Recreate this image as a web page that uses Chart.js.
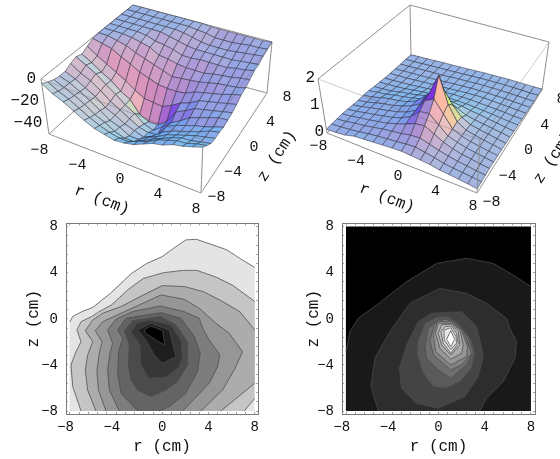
<!DOCTYPE html>
<html>
<head>
<meta charset="utf-8">
<script src="https://cdn.jsdelivr.net/npm/chart.js@4/dist/chart.umd.js"></script>
<style>
  body { margin: 0; background: #fff; }
  canvas { position: absolute; }
</style>
</head>
<body>
<canvas id="surfaceLeft" width="310" height="215" style="left:0;top:0"></canvas>
<canvas id="surfaceRight" width="280" height="215" style="left:280px;top:0"></canvas>
<canvas id="contourLeft" width="280" height="244" style="left:0;top:215px"></canvas>
<canvas id="contourRight" width="280" height="244" style="left:280px;top:215px"></canvas>
<script>
const FONT = "'Liberation Mono'";
const rTitle = "r (cm)";
const zTitle = "z (cm)";
const axisLabels = [-8, -4, 0, 4, 8];
const frameTicks = [-8, -7.2, -6.4, -5.6, -4.8, -4, -3.2, -2.4, -1.6, -0.8, 0, 0.8, 1.6, 2.4, 3.2, 4, 4.8, 5.6, 6.4, 7.2, 8];
const gridAxis = [-8, -7, -6, -5, -4, -3, -2, -1, 0, 1, 2, 3, 4, 5, 6, 7, 8];

// heights, one row per z from -8 to 8, one column per r from -8 to 8
const depthGrid = [
  [-4,-10,-14,-19,-24,-28,-30,-32,-31,-29,-25,-21,-19,-15,-13,-10,-7],
  [-7,-12,-16,-21,-26,-30,-33,-35,-35,-31,-28,-23,-20,-17,-16,-13,-11],
  [-9,-13,-17,-22,-28,-32,-37,-40,-40,-36,-31,-27,-23,-20,-19,-17,-15],
  [-10,-13,-18,-23,-29,-35,-38,-43,-43,-38,-34,-29,-26,-23,-20,-18,-16],
  [-10,-14,-19,-24,-31,-35,-40,-43,-46,-42,-35,-31,-28,-25,-22,-18,-16],
  [-7,-13,-17,-23,-30,-35,-40,-45,-47,-46,-35,-31,-28,-25,-23,-20,-17],
  [-5,-10,-15,-22,-28,-35,-40,-47,-50,-44,-37,-32,-26,-23,-20,-17,-16],
  [-7,-12,-18,-23,-30,-35,-46,-50,-50,-44,-32,-28,-23,-21,-19,-17,-15],
  [-4,-10,-15,-20,-25,-31,-36,-37,-38,-34,-29,-26,-21,-19,-17,-15,-13],
  [-1,-3,-5,-10,-14,-19,-22,-25,-26,-26,-25,-21,-19,-17,-15,-12,-10],
  [0,0,-2,-4,-8,-11,-14,-17,-20,-19,-18,-17,-15,-13,-12,-11,-9],
  [0,0,0,-1,-3,-5,-10,-11,-13,-14,-14,-14,-12,-11,-10,-8,-7],
  [0,0,0,0,-1,-4,-5,-7,-10,-10,-9,-9,-9,-9,-7,-6,-4],
  [0,0,0,0,0,0,-2,-4,-6,-7,-7,-7,-7,-7,-6,-5,-4],
  [0,0,0,0,0,0,0,-1,-3,-5,-6,-6,-6,-5,-4,-3,-2],
  [0,0,0,0,0,0,0,0,-1,-2,-4,-4,-4,-3,-2,-2,-1],
  [0,0,0,0,0,0,0,0,0,-1,-1,-1,-1,-1,-1,-1,0]
];
const peakGrid = [
  [.14,.16,.20,.30,.33,.36,.39,.42,.44,.42,.39,.36,.30,.27,.24,.2,.16],
  [.15,.18,.22,.27,.33,.38,.42,.45,.50,.52,.46,.40,.32,.28,.25,.22,.18],
  [.16,.2,.27,.31,.38,.45,.5,.55,.62,.65,.55,.45,.37,.31,.27,.22,.19],
  [.17,.21,.28,.33,.4,.47,.58,.7,.85,.9,.72,.54,.42,.34,.29,.24,.2],
  [.16,.21,.28,.34,.42,.49,.6,.78,1.1,1.15,.85,.55,.44,.36,.3,.25,.2],
  [.14,.2,.28,.35,.42,.5,.62,.8,1.3,1.5,1.05,.6,.45,.36,.3,.25,.2],
  [.13,.18,.27,.36,.42,.52,.65,.85,1.4,2.2,1.2,.65,.45,.37,.3,.25,.19],
  [.14,.19,.28,.36,.4,.48,.63,.95,1.3,1.45,.95,.6,.43,.36,.3,.24,.18],
  [.13,.18,.22,.3,.35,.42,.5,.62,.8,.78,.6,.45,.38,.33,.28,.23,.17],
  [.1,.12,.15,.22,.27,.33,.42,.48,.5,.5,.46,.4,.36,.3,.25,.2,.15],
  [.08,.1,.12,.15,.2,.24,.27,.31,.33,.33,.32,.3,.27,.24,.2,.17,.14],
  [.05,.06,.08,.1,.13,.16,.2,.23,.25,.25,.25,.23,.21,.19,.17,.14,.12],
  [.04,.05,.06,.08,.1,.12,.13,.15,.17,.19,.2,.2,.18,.16,.14,.12,.1],
  [.03,.04,.05,.06,.07,.08,.1,.12,.13,.15,.15,.15,.14,.13,.11,.09,.08],
  [.02,.03,.04,.05,.06,.06,.08,.1,.1,.12,.12,.12,.11,.1,.09,.07,.06],
  [.02,.02,.03,.04,.05,.05,.06,.07,.08,.09,.09,.09,.09,.08,.07,.05,.05],
  [.01,.02,.02,.03,.04,.04,.05,.05,.06,.07,.07,.07,.07,.06,.05,.04,.04]
];
const depthTicks = [0, -20, -40];
const peakTicks = [0, 1, 2];

// contour outlines in cm, outermost first
const depthGrays = [228, 197, 172, 150, 125, 100, 75, 55, 30, 0];
const depthContours = [
  [[-8,-8],[-8,-.25],[-7.75,.2],[-7,.6],[-6,1],[-4.5,2.2],[-2.65,3.95],[-1.35,4.8],[0,5.4],[.95,6.1],[2.05,6.85],[2.95,6.9],[4.4,6.4],[5.55,6],[6.7,5.25],[8,4.45],[8,-8]],
  [[-7.03,-8],[-7.75,-5.88],[-7.9,-4],[-7.47,-2.85],[-7.03,-1.98],[-7.38,-.97],[-7.03,-.25],[-6.1,.2],[-5.5,.6],[-4.4,1.2],[-3,2.5],[-1.65,3.5],[.1,4],[1.8,4.2],[3,4.2],[4.7,3.6],[6.1,2.9],[8,1.5],[8,-6.89],[7.09,-8]],
  [[-5.74,-8],[-6.46,-6.17],[-6.66,-4.44],[-6.46,-3.14],[-6.02,-1.98],[-6.66,-1.03],[-6.02,-.1],[-5.16,.48],[-3.57,1.06],[-1.93,1.92],[0,2.88],[1.96,2.79],[3.54,2.36],[4.98,1.63],[6.71,.62],[8,-.97],[8,-5.59],[5.07,-8]],
  [[-4.87,-8],[-5.53,-6.17],[-5.65,-4.44],[-5.45,-2.99],[-5.22,-1.98],[-5.8,-1.03],[-5.16,-.25],[-3.57,.48],[-1.7,1.34],[-.12,2.07],[1.9,1.69],[3.2,.91],[4.64,-.39],[5.79,-1.26],[6.94,-2.85],[6.22,-4.44],[5.22,-6.17],[3.34,-8]],
  [[-3.72,-8],[-4.58,-6.17],[-4.73,-4.44],[-4.53,-2.99],[-4.3,-2.12],[-4.73,-.97],[-4.01,-.04],[-2.57,.62],[-.17,1.11],[1.9,.62],[3.2,.04],[3.49,-.82],[4.06,-1.84],[4.98,-3.14],[4.78,-4.15],[4.06,-5.59],[1.76,-8]],
  [[-2.13,-8],[-3.57,-6.46],[-3.86,-4.73],[-3.78,-2.85],[-3.43,-1.69],[-3.86,-.97],[-3.14,.04],[-.12,.53],[1.61,.04],[2.77,-1.55],[3.28,-2.99],[3.05,-4.58],[2.04,-6.46],[.6,-7.62],[-.26,-8]],
  [[-.98,-6.75],[-2.13,-6.17],[-2.71,-5.3],[-2.94,-4],[-2.85,-2.27],[-3.29,-1.03],[-2.57,-.16],[-.12,.19],[1.18,-.53],[2.19,-1.98],[2.19,-4],[1.32,-5.45],[.32,-6.17]],
  [[-1.13,-5.16],[-1.85,-4],[-1.93,-2.27],[-2.71,-1.11],[-2.13,-.39],[-1.13,-.1],[.75,-.53],[1.61,-1.84],[1.76,-3.28],[1.47,-4.15],[.32,-5.07]],
  [[.03,-3.86],[-.69,-3.14],[-1.41,-1.84],[-2.13,-.97],[-.98,-.39],[.6,-.97],[1.18,-3.28]],
  [[-1.56,-.97],[-.98,-.62],[.03,-1.03],[.23,-2.27],[-.55,-1.84],[-1.41,-1.26]]
];
const peakGrays = [0, 25, 45, 68, 90, 110, 130, 150, 170, 190, 210, 230, 255];
const peakContours = [
  [[-8,-8],[-8,8],[8,8],[8,-8]],
  [[-8,-8],[-8,-2.85],[-7.66,-1.11],[-6.94,.04],[-5.35,1.2],[-2.76,3.22],[-.16,4.81],[2.43,5.25],[4.73,4.81],[6.46,3.8],[8,2.79],[8,-8]],
  [[-5.21,-8],[-5.84,-5.88],[-5.5,-3.42],[-4.2,-1.11],[-2.47,1.34],[.12,2.64],[2.43,2.21],[4.16,1.34],[5.89,.04],[6.18,-.82],[6.75,-1.98],[6.61,-3.42],[5.6,-5.45],[4.16,-6.89],[3.58,-8]],
  [[-.02,-7.76],[-1.89,-7.33],[-3.19,-6.03],[-3.39,-4.29],[-2.76,-2.27],[-1.75,-.25],[-.6,.48],[2,.62],[3.29,-.68],[3.73,-2.41],[3.87,-3.28],[3.44,-5],[2.28,-6.75]],
  [[-1.87,-2.99],[-1.75,-1.84],[-1.17,-.39],[-.16,.13],[.84,.19],[1.71,-.39],[2.86,-1.84],[3.15,-2.99],[2.86,-4.29],[1.85,-5.45],[.7,-6.03],[-.45,-5.88],[-1.32,-4.73]],
  [[1.07,-5.16],[-.02,-4.44],[-1.03,-3.42],[-1.17,-2.41],[-.89,-.82],[-.02,-.1],[1.13,-.1],[1.85,-.68],[2.57,-1.55],[3,-2.85],[2.43,-4]],
  [[1.07,-4.44],[-.45,-3.14],[-.74,-1.84],[-.31,-.39],[.56,-.04],[1.28,-.25],[2.28,-1.4],[2.86,-2.99],[2,-4]],
  [[1.07,-4],[-.25,-2.85],[-.45,-1.4],[-.08,-.25],[1.13,-.25],[2,-1.03],[2.52,-2.41],[2.43,-3.28]],
  [[1.07,-3.51],[.12,-2.56],[-.25,-1.26],[-.02,-.39],[1.13,-.39],[1.85,-.97],[2.14,-2.27],[2,-2.99]],
  [[1.07,-3.14],[.27,-2.27],[-.02,-1.26],[.27,-.53],[1.13,-.45],[1.71,-1.11],[1.85,-2.27]],
  [[1.07,-2.99],[.41,-2.12],[.21,-1.11],[.56,-.68],[1.13,-.62],[1.56,-1.26],[1.71,-2.12]],
  [[1.07,-2.64],[.5,-1.84],[.47,-.97],[1.07,-.77],[1.51,-1.55],[1.56,-2.12]],
  [[1.07,-2.41],[.7,-1.78],[1.07,-1.03],[1.39,-1.78]]
];

// where the box corners land on the canvas (r-8 z-8, r8 z-8, r8 z8, r-8 z8)
const leftView = {
  bottom: [[49,134],[201,193],[267,93],[133,57]],
  top: [[41,79],[203,140],[272,42],[133,5]],
  hMin: -50, hMax: 0,
  rOffset: [-5,16], zOffset: [20,4], hOffset: [-5,0],
  rTitleAt: [102,200], zTitleAt: [277,156]
};
const rightView = {
  bottom: [[47,133],[197,193],[262,90],[131,55]],
  top: [[38,79],[200,140],[269,42],[130,5]],
  hMin: 0, hMax: 2,
  rOffset: [-4,13], zOffset: [19,9], hOffset: [-3,-1],
  rTitleAt: [107,198], zTitleAt: [273,158]
};

function mix(a, b, t) { return a + (b - a) * t; }

function project(view, r, z, h) {
  const u = (r + 8) / 16, v = (z + 8) / 16, w = (h - view.hMin) / (view.hMax - view.hMin);
  const at = c => [0, 1].map(k => mix(mix(c[0][k], c[1][k], u), mix(c[3][k], c[2][k], u), v));
  const lo = at(view.bottom), hi = at(view.top);
  return { x: mix(lo[0], hi[0], w), y: mix(lo[1], hi[1], w) };
}

// colour follows the cell's facing direction, fitted by eye to the picture
function shade(view, grid, i, j) {
  const boxH = 0.3 / (view.hMax - view.hMin);
  const d1 = [2/16, 0, (grid[j+1][i+1] - grid[j][i] + grid[j][i+1] - grid[j+1][i]) * boxH];
  const d2 = [0, 2/16, (grid[j+1][i+1] - grid[j][i] - grid[j][i+1] + grid[j+1][i]) * boxH];
  let n = [d1[1]*d2[2]-d1[2]*d2[1], d1[2]*d2[0]-d1[0]*d2[2], d1[0]*d2[1]-d1[1]*d2[0]];
  const len = Math.hypot(n[0], n[1], n[2]);
  n = n.map(c => c / len);
  const vx = .868*n[0] + .377*n[1] - .114*n[2];
  const vy = -.337*n[0] + .571*n[1] + .783*n[2];
  const vz = .36*n[0] - .64*n[1] + .62*n[2];
  const red = .594 + (vx < 0 ? .2 : .3)*vx - .2*vy + .3*vz;
  const green = .72 + (vx < 0 ? .3 : .25)*vx + .1*vy - .1*vz - .8*Math.max(0, -vx - .5);
  const blue = .78 - .05*vx + .18*vy - .05*vz - .8*Math.max(0, vx - .4);
  return `rgb(${[red, green, blue].map(c => Math.round(255 * Math.max(0, Math.min(1, c)))).join(",")})`;
}

const nearlyStraight = { tension: .001, capBezierPoints: false };

function lineSet(points, color) {
  return { data: points, showLine: true, fill: false, borderColor: color, borderWidth: 1, pointRadius: 0, clip: false, ...nearlyStraight };
}

function surfaceSets(view, grid) {
  const sets = [];
  const corner = (r, z, h) => project(view, r, z, h);
  const lo = view.hMin, hi = view.hMax;
  const backEdges = [[[-8,8,lo],[8,8,lo]],[[-8,-8,lo],[-8,8,lo]],[[-8,8,lo],[-8,8,hi]],[[-8,-8,hi],[-8,8,hi]],[[-8,8,hi],[8,8,hi]],[[8,8,lo],[8,8,hi]]];
  const frontEdges = [[[-8,-8,lo],[8,-8,lo]],[[8,-8,lo],[8,8,lo]],[[-8,-8,lo],[-8,-8,hi]],[[8,-8,lo],[8,-8,hi]]];
  const faintEdges = [[[-8,-8,hi],[8,-8,hi]],[[8,-8,hi],[8,8,hi]]];
  backEdges.forEach(e => sets.push(lineSet(e.map(p => corner(...p)), "#8c8c8c")));
  // far cells first so that near ones cover them
  for (let j = gridAxis.length - 2; j >= 0; j--) {
    for (let i = 0; i < gridAxis.length - 1; i++) {
      const quad = [[i,j],[i+1,j],[i+1,j+1],[i,j+1],[i,j]];
      sets.push({
        data: quad.map(q => project(view, gridAxis[q[0]], gridAxis[q[1]], grid[q[1]][q[0]])),
        showLine: true, fill: "shape", backgroundColor: shade(view, grid, i, j),
        borderColor: "rgba(45,45,60,.7)", borderWidth: .8, pointRadius: 0, clip: false, ...nearlyStraight
      });
    }
  }
  frontEdges.forEach(e => sets.push(lineSet(e.map(p => corner(...p)), "#8c8c8c")));
  faintEdges.forEach(e => sets.push(lineSet(e.map(p => corner(...p)), "rgba(90,90,90,.3)")));
  return sets.reverse(); // chart.js paints the first dataset last
}

function tickText(v) { return v < 0 ? "\u2212" + Math.abs(v) + " " : String(v); }

function surfaceLabels(view, hTicks) {
  return {
    id: "surfaceLabels",
    afterDraw(chart) {
      const { ctx, scales } = chart;
      const px = p => [scales.x.getPixelForValue(p.x), scales.y.getPixelForValue(p.y)];
      const put = (text, at, off, align) => {
        ctx.textAlign = align;
        ctx.fillText(text, at[0] + off[0], at[1] + off[1]);
      };
      ctx.save();
      ctx.fillStyle = "#111";
      ctx.textBaseline = "middle";
      ctx.font = "15px " + FONT;
      axisLabels.forEach(v => {
        put(tickText(v), px(project(view, v, -8, view.hMin)), view.rOffset, "center");
        put(tickText(v), px(project(view, 8, v, view.hMin)), view.zOffset, "center");
      });
      ctx.font = "16px " + FONT;
      hTicks.forEach(v => {
        put(tickText(v).trim(), px(project(view, -8, -8, v)), view.hOffset, "right");
      });
      ctx.textAlign = "center";
      [[rTitle, view.rTitleAt, 21], [zTitle, view.zTitleAt, -57]].forEach(t => {
        ctx.save();
        ctx.translate(scales.x.getPixelForValue(t[1][0]), scales.y.getPixelForValue(t[1][1]));
        ctx.rotate(t[2] * Math.PI / 180);
        ctx.fillText(t[0], 0, 0);
        ctx.restore();
      });
      ctx.restore();
    }
  };
}

function drawSurface(id, view, grid, hTicks) {
  const canvas = document.getElementById(id);
  new Chart(canvas, {
    type: "scatter",
    data: { datasets: surfaceSets(view, grid) },
    plugins: [surfaceLabels(view, hTicks)],
    options: {
      responsive: false,
      animation: false,
      events: [],
      plugins: { legend: { display: false }, tooltip: { enabled: false } },
      scales: {
        x: { display: false, min: 0, max: canvas.width },
        y: { display: false, min: 0, max: canvas.height, reverse: true }
      }
    }
  });
}

function frameAxis(position, min, max, size, withLabels, title) {
  const axis = {
    type: "linear", position: position, min: min, max: max,
    border: { display: true, color: "#7a7a7a", width: 1 },
    grid: { drawOnChartArea: false, tickLength: -2, color: "#8a8a8a", lineWidth: .8 },
    afterBuildTicks(scale) { scale.ticks = frameTicks.map(v => ({ value: v })); },
    afterFit(scale) {
      if (scale.isHorizontal()) scale.height = size; else scale.width = size;
      // tick labels may hang past the frame, so no room is kept for them
      scale.paddingTop = scale.paddingBottom = scale.paddingLeft = scale.paddingRight = 0;
    },
    ticks: {
      display: withLabels, autoSkip: false, maxRotation: 0, minRotation: 0,
      padding: withLabels ? (position === "left" ? 10 : 7) : 0,
      color: "#111", font: { family: FONT, size: 14 },
      callback(v) {
        if (!axisLabels.includes(v)) return "";
        return position === "bottom" ? tickText(v) : tickText(v).trim();
      }
    }
  };
  if (title) {
    axis.title = {
      display: true, text: title, color: "#111", font: { family: FONT, size: 16 },
      padding: position === "left" ? { top: 24, bottom: 0 } : { top: 0, bottom: 3 }
    };
  }
  return axis;
}

function onEdge(a, b) {
  return (Math.abs(a[0]) === 8 && a[0] === b[0]) || (Math.abs(a[1]) === 8 && a[1] === b[1]);
}

// the outline without the stretches that run along the plot region's edge
function outlineRuns(outline) {
  const closed = outline.concat([outline[0]]);
  const runs = [];
  let run = [closed[0]];
  for (let i = 1; i < closed.length; i++) {
    if (onEdge(closed[i-1], closed[i])) {
      if (run.length > 1) runs.push(run);
      run = [closed[i]];
    } else {
      run.push(closed[i]);
    }
  }
  if (run.length > 1) runs.push(run);
  return runs;
}

function drawContour(id, contours, grays, rRange, zRange, leftSize, rightSize) {
  const sets = [];
  const toPoint = p => ({ x: p[0], y: p[1] });
  contours.forEach((outline, k) => {
    const g = grays[k];
    sets.push({
      data: outline.concat([outline[0]]).map(toPoint),
      showLine: true, fill: "shape", backgroundColor: `rgb(${g},${g},${g})`,
      borderWidth: 0, pointRadius: 0, ...nearlyStraight
    });
    outlineRuns(outline).forEach(run => {
      sets.push({
        data: run.map(toPoint), showLine: true, fill: false,
        borderColor: "rgb(75,75,75)", borderWidth: .8, pointRadius: 0, ...nearlyStraight
      });
    });
  });
  new Chart(document.getElementById(id), {
    type: "scatter",
    data: { datasets: sets.reverse() },
    options: {
      responsive: false,
      animation: false,
      events: [],
      plugins: { legend: { display: false }, tooltip: { enabled: false } },
      scales: {
        x: frameAxis("bottom", rRange[0], rRange[1], 45, true, rTitle),
        xTop: frameAxis("top", rRange[0], rRange[1], 8.5, false),
        y: frameAxis("left", zRange[0], zRange[1], leftSize, true, zTitle),
        yRight: frameAxis("right", zRange[0], zRange[1], rightSize, false)
      }
    }
  });
}

drawSurface("surfaceLeft", leftView, depthGrid, depthTicks);
drawSurface("surfaceRight", rightView, peakGrid, peakTicks);
drawContour("contourLeft", depthContours, depthGrays, [-8.33, 8.28], [-8.26, 8.27], 66, 22);
drawContour("contourRight", peakContours, peakGrays, [-8.35, 8.35], [-8.26, 8.27], 62, 25);
</script>
</body>
</html>
